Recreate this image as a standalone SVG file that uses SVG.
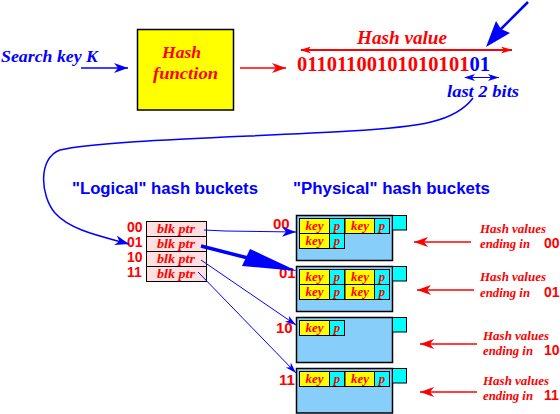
<svg xmlns="http://www.w3.org/2000/svg" width="560" height="414" viewBox="0 0 560 414">
<style>
.it{font-family:"Liberation Serif",serif;font-style:italic;font-weight:bold}
.sb{font-family:"Liberation Sans",sans-serif;font-weight:bold}
.red{fill:#ff0000}
.blue{fill:#0000ff}
.key{fill:#ffff00;stroke:#000;stroke-width:1}
.p{fill:#00ffff;stroke:#000;stroke-width:1}
.bk{fill:#87cefa;stroke:#000;stroke-width:1.5}
.tab{fill:#ffe0e0;stroke:#000;stroke-width:1}
.ct{font-family:"Liberation Serif",serif;font-style:italic;font-weight:bold;font-size:13px;fill:#ff0000;text-anchor:middle}
</style>
<defs>
<marker id="ab" markerUnits="userSpaceOnUse" markerWidth="16" markerHeight="12" refX="14" refY="5" orient="auto"><path d="M0,0 L14,5 L0,10 L4,5 Z" fill="#0000ff"/></marker>
<marker id="ar" markerUnits="userSpaceOnUse" markerWidth="16" markerHeight="12" refX="14" refY="5" orient="auto"><path d="M0,0 L14,5 L0,10 L4,5 Z" fill="#ff0000"/></marker>
<marker id="abs" markerUnits="userSpaceOnUse" markerWidth="12" markerHeight="8" refX="11" refY="3.5" orient="auto"><path d="M0,0 L11,3.5 L0,7 L3,3.5 Z" fill="#0000ff"/></marker>
<marker id="abss" markerUnits="userSpaceOnUse" markerWidth="12" markerHeight="8" refX="1" refY="3.5" orient="auto"><path d="M11,0 L0,3.5 L11,7 L8,3.5 Z" fill="#0000ff"/></marker>
<marker id="ars" markerUnits="userSpaceOnUse" markerWidth="12" markerHeight="8" refX="11" refY="3.5" orient="auto"><path d="M0,0 L11,3.5 L0,7 L3,3.5 Z" fill="#ff0000"/></marker>
<marker id="arss" markerUnits="userSpaceOnUse" markerWidth="12" markerHeight="8" refX="1" refY="3.5" orient="auto"><path d="M11,0 L0,3.5 L11,7 L8,3.5 Z" fill="#ff0000"/></marker>
</defs>

<g id="search-key">
<text x="1" y="62" class="it blue" font-size="16" textLength="97" lengthAdjust="spacingAndGlyphs">Search key K</text>
</g>

<g id="hash-function">
<rect x="137.5" y="29.5" width="96" height="80.5" fill="#ffff00" stroke="#000" stroke-width="1.5"/>
<text x="162" y="58" class="it red" font-size="17" textLength="39" lengthAdjust="spacingAndGlyphs">Hash</text>
<text x="153" y="79" class="it red" font-size="17" textLength="65" lengthAdjust="spacingAndGlyphs">function</text>
</g>

<g id="hash-value">
<text x="357" y="44" class="it red" font-size="18" textLength="90" lengthAdjust="spacingAndGlyphs">Hash value</text>
<text x="297" y="71" font-family="Liberation Serif,serif" font-weight="bold" font-size="20" textLength="193" lengthAdjust="spacingAndGlyphs"><tspan fill="#ff0000">01101100101010101</tspan><tspan fill="#0000ff">01</tspan></text>
<text x="447" y="97" class="it blue" font-size="16" textLength="72" lengthAdjust="spacingAndGlyphs">last 2 bits</text>
</g>

<g id="logical-label"><text x="72" y="194" class="sb blue" font-size="16" textLength="186" lengthAdjust="spacingAndGlyphs">"Logical" hash buckets</text></g>
<g id="physical-label"><text x="293" y="194" class="sb blue" font-size="16" textLength="197" lengthAdjust="spacingAndGlyphs">"Physical" hash buckets</text></g>

<g id="logical-table">
<rect class="tab" x="146.5" y="221.5" width="60" height="15"/>
<rect class="tab" x="146.5" y="236.5" width="60" height="15"/>
<rect class="tab" x="146.5" y="251.5" width="60" height="15"/>
<rect class="tab" x="146.5" y="266.5" width="60" height="15"/>
<text class="ct" x="176" y="233" textLength="38" lengthAdjust="spacingAndGlyphs">blk ptr</text>
<text class="ct" x="176" y="248" textLength="38" lengthAdjust="spacingAndGlyphs">blk ptr</text>
<text class="ct" x="176" y="263" textLength="38" lengthAdjust="spacingAndGlyphs">blk ptr</text>
<text class="ct" x="176" y="278" textLength="38" lengthAdjust="spacingAndGlyphs">blk ptr</text>
<g class="sb red" font-size="14">
<text x="127" y="232">00</text>
<text x="127" y="247">01</text>
<text x="127" y="262">10</text>
<text x="127" y="277">11</text>
</g>
</g>

<g id="bucket-00">
<rect class="bk" x="296.5" y="215.5" width="96" height="45"/>
<rect class="p" x="392.5" y="215.5" width="14" height="14.5"/>
<rect class="key" x="299.5" y="218.5" width="30" height="15"/><rect class="p" x="329.5" y="218.5" width="15" height="15"/>
<rect class="key" x="345" y="218.5" width="29.5" height="15"/><rect class="p" x="374.5" y="218.5" width="15" height="15"/>
<rect class="key" x="299.5" y="233.5" width="30" height="15"/><rect class="p" x="329.5" y="233.5" width="15" height="15"/>
<text class="ct" x="314.5" y="230">key</text><text class="ct" x="337" y="230">p</text>
<text class="ct" x="360" y="230">key</text><text class="ct" x="382" y="230">p</text>
<text class="ct" x="314.5" y="245">key</text><text class="ct" x="337" y="245">p</text>
<text x="273" y="229" class="sb red" font-size="15">00</text>
</g>

<g id="bucket-01">
<rect class="bk" x="296.5" y="266.5" width="96" height="45"/>
<rect class="p" x="392.5" y="266.5" width="14" height="14.5"/>
<rect class="key" x="299.5" y="269.5" width="30" height="15"/><rect class="p" x="329.5" y="269.5" width="15" height="15"/>
<rect class="key" x="345" y="269.5" width="29.5" height="15"/><rect class="p" x="374.5" y="269.5" width="15" height="15"/>
<rect class="key" x="299.5" y="284.5" width="30" height="15"/><rect class="p" x="329.5" y="284.5" width="15" height="15"/>
<rect class="key" x="345" y="284.5" width="29.5" height="15"/><rect class="p" x="374.5" y="284.5" width="15" height="15"/>
<text class="ct" x="314.5" y="281">key</text><text class="ct" x="337" y="281">p</text>
<text class="ct" x="360" y="281">key</text><text class="ct" x="382" y="281">p</text>
<text class="ct" x="314.5" y="296">key</text><text class="ct" x="337" y="296">p</text>
<text class="ct" x="360" y="296">key</text><text class="ct" x="382" y="296">p</text>
<text x="279" y="278" class="sb red" font-size="15">01</text>
</g>

<g id="bucket-10">
<rect class="bk" x="296.5" y="317.5" width="96" height="45"/>
<rect class="p" x="392.5" y="317.5" width="14" height="14.5"/>
<rect class="key" x="299.5" y="320.5" width="30" height="15"/><rect class="p" x="329.5" y="320.5" width="15" height="15"/>
<text class="ct" x="314.5" y="332">key</text><text class="ct" x="337" y="332">p</text>
<text x="276" y="333" class="sb red" font-size="15">10</text>
</g>

<g id="bucket-11">
<rect class="bk" x="296.5" y="368.5" width="96" height="44.5"/>
<rect class="p" x="392.5" y="368.5" width="14" height="14.5"/>
<rect class="key" x="299.5" y="371.5" width="30" height="15"/><rect class="p" x="329.5" y="371.5" width="15" height="15"/>
<rect class="key" x="345" y="371.5" width="29.5" height="15"/><rect class="p" x="374.5" y="371.5" width="15" height="15"/>
<text class="ct" x="314.5" y="383">key</text><text class="ct" x="337" y="383">p</text>
<text class="ct" x="360" y="383">key</text><text class="ct" x="382" y="383">p</text>
<text x="279" y="385" class="sb red" font-size="15">11</text>
</g>

<g id="label-00"><text x="480" y="233" class="it red" font-size="13" textLength="66" lengthAdjust="spacingAndGlyphs">Hash values</text><text x="480" y="248" class="it red" font-size="13" textLength="50" lengthAdjust="spacingAndGlyphs">ending in</text><text x="544" y="248" class="sb red" font-size="14">00</text></g>
<g id="label-01"><text x="480" y="281" class="it red" font-size="13" textLength="66" lengthAdjust="spacingAndGlyphs">Hash values</text><text x="480" y="297" class="it red" font-size="13" textLength="50" lengthAdjust="spacingAndGlyphs">ending in</text><text x="544" y="297" class="sb red" font-size="14">01</text></g>
<g id="label-10"><text x="483" y="340" class="it red" font-size="13" textLength="66" lengthAdjust="spacingAndGlyphs">Hash values</text><text x="483" y="355" class="it red" font-size="13" textLength="50" lengthAdjust="spacingAndGlyphs">ending in</text><text x="544" y="355" class="sb red" font-size="14">10</text></g>
<g id="label-11"><text x="483" y="385" class="it red" font-size="13" textLength="66" lengthAdjust="spacingAndGlyphs">Hash values</text><text x="483" y="400" class="it red" font-size="13" textLength="50" lengthAdjust="spacingAndGlyphs">ending in</text><text x="544" y="400" class="sb red" font-size="14">11</text></g>

<g id="connectors" fill="none">
<line x1="81" y1="68" x2="128" y2="68" stroke="#0000ff" stroke-width="1.5" marker-end="url(#ab)"/>
<line x1="240" y1="68" x2="286" y2="68" stroke="#ff0000" stroke-width="1.5" marker-end="url(#ar)"/>
<line x1="301" y1="50" x2="512" y2="50" stroke="#ff0000" stroke-width="2" marker-start="url(#arss)" marker-end="url(#ars)"/>
<line x1="465" y1="77.5" x2="499" y2="77.5" stroke="#0000ff" stroke-width="1" marker-start="url(#abss)" marker-end="url(#abs)"/>
<line x1="528" y1="2" x2="500" y2="30" stroke="#0000ff" stroke-width="2.5"/>
<path d="M486,47 L496,21 L501,29 L510,33 Z" fill="#0000ff"/>
<path d="M473,98 C455,122 420,127 350,131 C250,137 100,140 60,150 C38,158 40,195 55,213 C70,230 100,236 129,244" stroke="#0000ff" stroke-width="1.5" marker-end="url(#ab)"/>
<polyline points="204,230 225,231 296,232" stroke="#0000ff" stroke-width="1" marker-end="url(#ab)"/>
<line x1="201" y1="246" x2="248" y2="258" stroke="#0000ff" stroke-width="3.5"/>
<path d="M297,271 L242,266 L250,249 Z" fill="#0000ff"/>
<line x1="201" y1="260" x2="296" y2="325" stroke="#0000ff" stroke-width="1" marker-end="url(#abs)"/>
<line x1="198" y1="272" x2="296" y2="373" stroke="#0000ff" stroke-width="1" marker-end="url(#abs)"/>
<line x1="471" y1="242" x2="414" y2="242" stroke="#ff0000" stroke-width="1.5" marker-end="url(#ar)"/>
<line x1="474" y1="290" x2="417" y2="290" stroke="#ff0000" stroke-width="1.5" marker-end="url(#ar)"/>
<line x1="477" y1="344" x2="420" y2="344" stroke="#ff0000" stroke-width="1.5" marker-end="url(#ar)"/>
<line x1="477" y1="392" x2="420" y2="392" stroke="#ff0000" stroke-width="1.5" marker-end="url(#ar)"/>
</g>
</svg>
